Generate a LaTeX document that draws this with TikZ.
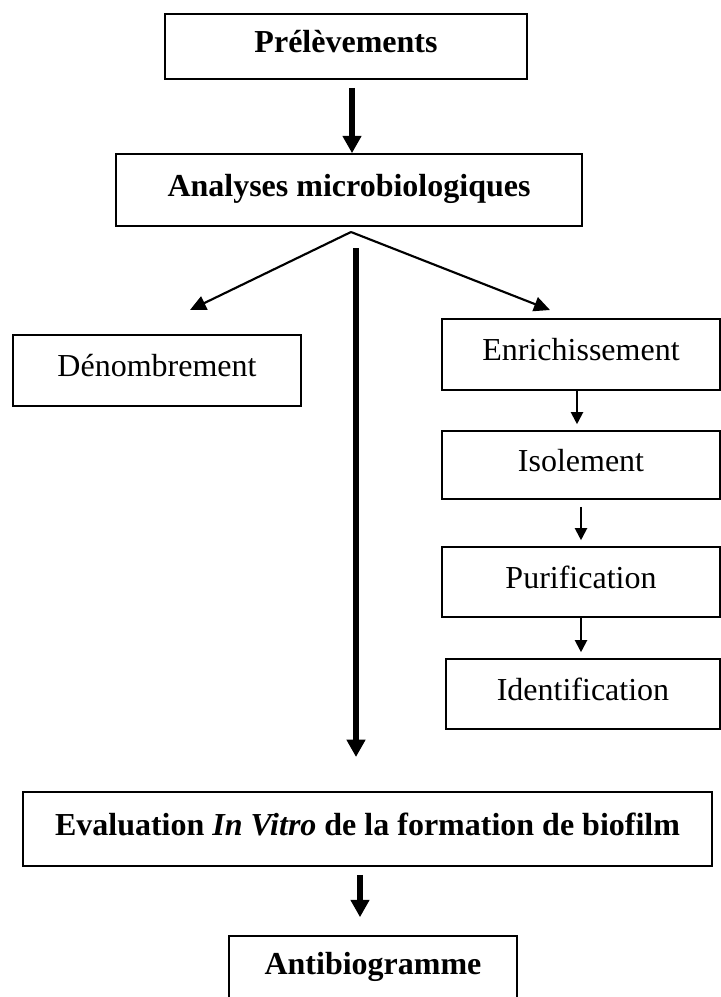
\documentclass[tikz,border=0pt]{standalone}
\usepackage{fontspec}
\setmainfont{Liberation Serif}
\usetikzlibrary{arrows.meta,calc}

\tikzset{
  box/.style={draw, line width=1.2pt, inner sep=0pt, text height=17pt, text depth=8pt,
    font=\fontsize{24}{28}\selectfont},
  bigarrow/.style={line width=4pt, -{Triangle[length=13pt,width=13.5pt]}},
  splitarrow/.style={line width=1.6pt, -{Triangle[length=12pt,width=11pt]}},
  smallarrow/.style={line width=1.5pt, -{Triangle[length=9pt,width=9pt]}, shorten >=4.5pt}
}

\begin{document}
\begin{tikzpicture}[x=0.75pt,y=-0.75pt]
  \clip (0,0) rectangle (721,997);
  % main column
  \node[box, minimum width=271.5pt, minimum height=48.75pt] (prel) at (346,46.5) {\textbf{Prélèvements}};
  \node[box, minimum width=349.5pt, minimum height=54pt] (ana) at (349,190) {\textbf{Analyses microbiologiques}};
  \node[box, minimum width=516.75pt, minimum height=55.5pt] (eva) at (367.5,829) {\textbf{Evaluation \textit{In Vitro} de la formation de biofilm}};
  \node[box, minimum width=216pt, minimum height=48pt] (anti) at (373,968) {\textbf{Antibiogramme}};
  % side boxes
  \node[box, minimum width=216pt, minimum height=53.25pt] (den) at (157,370.5) {Dénombrement};
  \node[box, minimum width=208.5pt, minimum height=53.25pt] (enr) at (581,354.5) {Enrichissement};
  \node[box, minimum width=208.5pt, minimum height=51pt] (iso) at (581,465) {Isolement};
  \node[box, minimum width=208.5pt, minimum height=52.5pt] (pur) at (581,582) {Purification};
  \node[box, minimum width=205.5pt, minimum height=52.5pt] (ide) at (583,694) {Identification};

  \coordinate (split) at (351,232);
  \coordinate (lefttip) at (190,310);
  \coordinate (righttip) at (550,310);
  \coordinate (mainstart) at (356,248);
  \coordinate (mainend) at (356,757);

  \draw[bigarrow] ($(prel.south)+(6,8)$) -- ($(ana.north)+(3,0)$);
  \draw[splitarrow] (split) -- (lefttip);
  \draw[splitarrow] (split) -- (righttip);
  \draw[bigarrow] (mainstart) -- (mainend);
  \draw[smallarrow] ($(enr.south)+(-4,0)$) -- ($(iso.north)+(-4,0)$);
  \draw[smallarrow] ($(iso.south)+(0,7)$) -- (pur.north);
  \draw[smallarrow] (pur.south) -- ($(ide.north)+(-2,0)$);
  \draw[bigarrow] ($(eva.south)+(-7.5,8)$) -- ($(anti.north)+(-13,-18)$);
\end{tikzpicture}
\end{document}
